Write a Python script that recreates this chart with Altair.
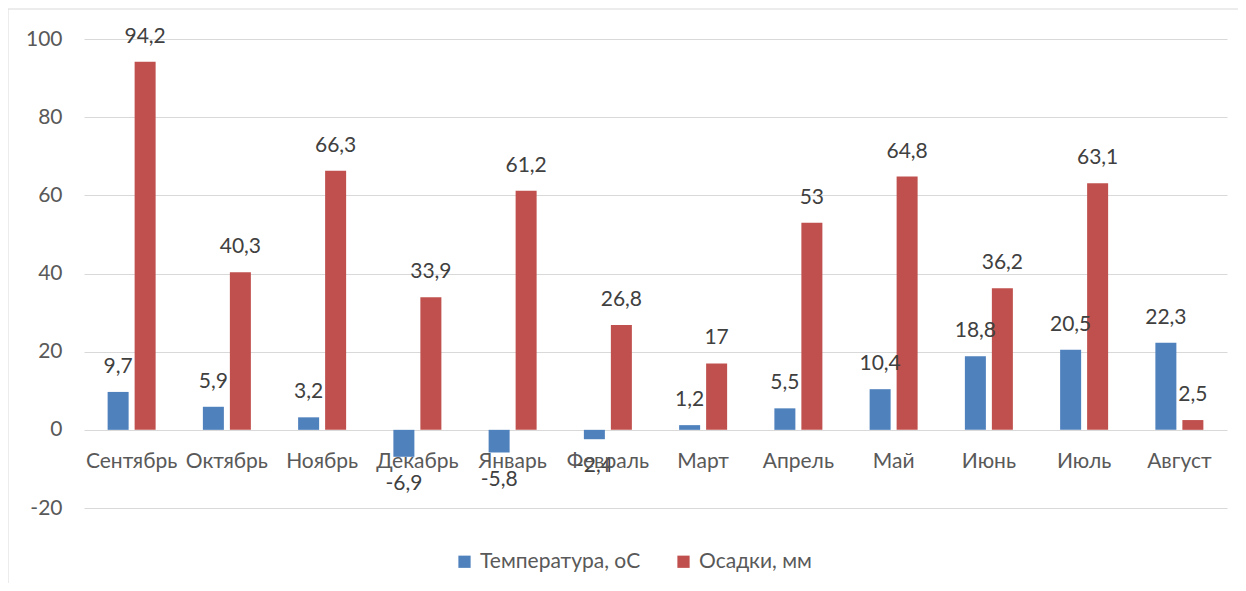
import altair as alt
import pandas as pd

months = ["Сентябрь", "Октябрь", "Ноябрь", "Декабрь", "Январь", "Февраль",
          "Март", "Апрель", "Май", "Июнь", "Июль", "Август"]
series_names = ["Температура, оС", "Осадки, мм"]
temperature = [9.7, 5.9, 3.2, -6.9, -5.8, -2.4, 1.2, 5.5, 10.4, 18.8, 20.5, 22.3]
precipitation = [94.2, 40.3, 66.3, 33.9, 61.2, 26.8, 17, 53, 64.8, 36.2, 63.1, 2.5]
y_ticks = [-20, 0, 20, 40, 60, 80, 100]
colors = ["#4F81BD", "#C0504D"]

FONT = "Lato"
FS = 21

def fmt(v):
    return f"{v:g}".replace(".", ",")

rows = []
for m, t, p in zip(months, temperature, precipitation):
    rows.append({"month": m, "series": series_names[0], "value": t, "label": fmt(t)})
    rows.append({"month": m, "series": series_names[1], "value": p, "label": fmt(p)})
df = pd.DataFrame(rows)
mdf = pd.DataFrame({"month": months})

x_enc = alt.X("month:N", sort=months, axis=None,
              scale=alt.Scale(paddingInner=0, paddingOuter=0))
xo_enc = alt.XOffset("series:N", sort=series_names,
                     scale=alt.Scale(paddingInner=0.222, paddingOuter=0.875))
y_scale = alt.Scale(domain=[-20, 100], nice=False, zero=False)

bars = alt.Chart(df).mark_bar().encode(
    x=x_enc,
    xOffset=xo_enc,
    y=alt.Y("value:Q", scale=y_scale, title=None,
            axis=alt.Axis(values=y_ticks, grid=True, gridColor="#D9D9D9", gridWidth=1,
                          domain=False, ticks=False, labelFont=FONT, labelFontSize=FS,
                          labelColor="#595959", labelPadding=22,
                          labelExpr="replace(datum.label, '\u2212', '-')")),
    y2=alt.datum(0),
    color=alt.Color("series:N", sort=series_names, title=None,
                    scale=alt.Scale(domain=series_names, range=colors),
                    legend=alt.Legend(orient="none", legendX=370, legendY=512,
                                      direction="horizontal", symbolType="square",
                                      symbolSize=150, symbolStrokeWidth=0,
                                      labelFont=FONT, labelFontSize=FS, labelColor="#595959",
                                      labelOffset=5, columnPadding=32, labelLimit=400)),
)

pos_labels = alt.Chart(df).transform_filter("datum.value >= 0").mark_text(
    font=FONT, fontSize=FS, color="#404040", baseline="middle", dy=-25
).encode(x=x_enc, xOffset=xo_enc, y=alt.Y("value:Q", scale=y_scale), text="label:N")

neg_labels = alt.Chart(df).transform_filter("datum.value < 0").mark_text(
    font=FONT, fontSize=FS, color="#404040", baseline="middle", dy=27
).encode(x=x_enc, xOffset=xo_enc, y=alt.Y("value:Q", scale=y_scale), text="label:N")

month_labels = alt.Chart(mdf).mark_text(
    font=FONT, fontSize=FS, color="#595959", baseline="middle", dy=32
).encode(x=x_enc, y=alt.datum(0), text="month:N")

border = alt.Chart(pd.DataFrame({"a": [0]})).mark_rect(
    fill=None, stroke="#D9D9D9", strokeWidth=1
).encode(x=alt.value(-76), x2=alt.value(1170), y=alt.value(-30), y2=alt.value(600))

chart = alt.layer(border, bars, pos_labels, neg_labels, month_labels).properties(
    width=1143, height=469,
    padding={"left": 76, "top": 31, "right": 11, "bottom": 75},
    autosize=alt.AutoSizeParams(type="none"),
    background="white",
).configure_view(stroke=None)

chart.save("out.html", embed_options={"renderer": "svg", "actions": False})
